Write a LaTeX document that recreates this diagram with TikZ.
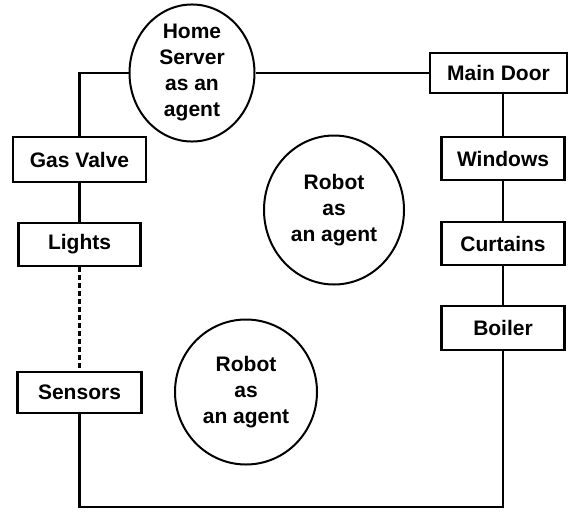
\documentclass[tikz,border=0pt]{standalone}
\usepackage{fontspec}
\setmainfont{Liberation Sans}
\usetikzlibrary{shapes.geometric}
\begin{document}
\begin{tikzpicture}[x=1pt,y=1pt,
  every node/.style={font=\fontsize{21}{26}\selectfont\bfseries, align=center},
  box/.style={draw, line width=2.2pt, inner sep=0pt, minimum height=42pt},
  agent/.style={draw, ellipse, line width=2pt, inner sep=0pt},
  link/.style={line width=2.2pt},
  dlink/.style={line width=2.2pt, dash pattern=on 5pt off 3pt}]
\useasboundingbox (0,0) rectangle (569,-511);
% agents
\node[agent, minimum width=125pt, minimum height=127pt] (hs) at (192,-73) {Home\\Server\\as an\\agent};
\node[agent, minimum width=140pt, minimum height=149pt] (r1) at (334,-210) {Robot\\as\\an agent};
\node[agent, minimum width=142pt, minimum height=145pt] (r2) at (246,-392) {Robot\\as\\an agent};
% left boxes
\node[box, minimum width=133pt, minimum height=45pt] (gas) at (79.5,-159.5) {Gas Valve};
\node[box, minimum width=122pt, minimum height=43pt] (lights) at (79.5,-244.5) {Lights};
\node[box, minimum width=124pt, minimum height=41pt] (sensors) at (79.5,-392.5) {Sensors};
% right boxes
\node[box, minimum width=137pt, minimum height=40pt] (door) at (498.5,-73) {Main Door};
\node[box, minimum width=123pt, minimum height=43pt] (win) at (503,-158.5) {Windows};
\node[box, minimum width=123pt, minimum height=43pt] (curt) at (503,-243.5) {Curtains};
\node[box, minimum width=123pt, minimum height=44pt] (boil) at (503,-328) {Boiler};
\coordinate (bot) at (0,-507);
% connectors
\draw[link] (gas.north) |- (hs.west);
\draw[link] (hs.east) -- (hs.east -| door.west);
\draw[link] (door.south -| win.north) -- (win.north);
\draw[link] (win.south) -- (curt.north);
\draw[link] (curt.south) -- (boil.north);
\draw[link] (gas.south) -- (lights.north);
\draw[dlink] (lights.south) -- (sensors.north);
\draw[link] (boil.south) -- (boil.south |- bot) -- (sensors.south |- bot) -- (sensors.south);
\end{tikzpicture}
\end{document}
